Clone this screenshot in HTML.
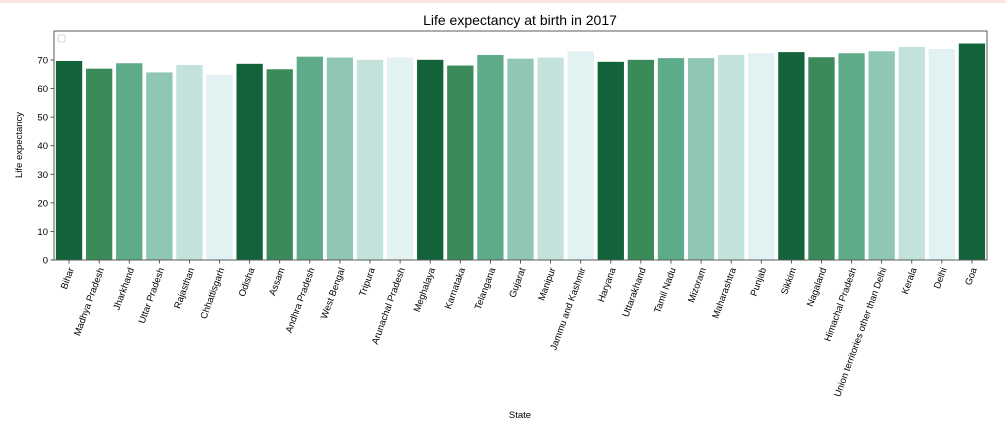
<!DOCTYPE html>
<html><head><meta charset="utf-8"><style>
body{margin:0;background:#fff;font-family:"Liberation Sans",sans-serif}
</style></head><body>
<div style="position:absolute;left:0;top:0;width:1006px;height:3px;background:#fde2e2"></div>
<svg id="c" width="1006" height="423" style="position:absolute;left:0;top:0"></svg>
<script>
const states=["Bihar","Madhya Pradesh","Jharkhand","Uttar Pradesh","Rajasthan","Chhattisgarh","Odisha","Assam","Andhra Pradesh","West Bengal","Tripura","Arunachal Pradesh","Meghalaya","Karnataka","Telangana","Gujarat","Manipur","Jammu and Kashmir","Haryana","Uttarakhand","Tamil Nadu","Mizoram","Maharashtra","Punjab","Sikkim","Nagaland","Himachal Pradesh","Union territories other than Delhi","Kerala","Delhi","Goa"];
const lifeExp=[69.8,67.1,69.0,65.8,68.4,65.0,68.8,66.9,71.3,71.0,70.2,71.0,70.2,68.2,71.9,70.6,71.0,73.1,69.5,70.2,70.8,70.8,71.9,72.5,72.9,71.1,72.5,73.2,74.7,74.0,75.9];
const yTicks=[0,10,20,30,40,50,60,70];
const palette=["#12633a","#3a8a5a","#5eab89","#8fc7b4","#c3e2dc","#e2f1f1"];
const svg=document.getElementById('c');const NS="http://www.w3.org/2000/svg";
const L=54,R=987,T=31,B=260;
const y=v=>B-v*(B-60)/70;
const bw=(R-L)/states.length;
const x=i=>L+i*bw;
function mk(t,a,txt){const e=document.createElementNS(NS,t);for(const k in a)e.setAttribute(k,a[k]);if(txt!==undefined)e.textContent=txt;svg.appendChild(e);return e;}
let e=mk('text',{x:520,y:25,'text-anchor':'middle','font-size':14,fill:'#000'},'Life expectancy at birth in 2017');

states.forEach((s,i)=>{
 const b=mk('rect',{x:x(i)+1.5,y:y(lifeExp[i]),width:bw-3,height:B-y(lifeExp[i]),fill:palette[i%6],stroke:'#fff','stroke-width':0.8});
 
 
 const cx=x(i)+bw/2;
 mk('line',{x1:cx,x2:cx,y1:B,y2:B+3.5,stroke:'#333','stroke-width':0.8});
 const t=mk('text',{x:cx+5,y:B+9,'text-anchor':'end','font-size':9.5,fill:'#000',transform:`rotate(-70 ${cx+5} ${B+9})`},s);
 
 
});
yTicks.forEach(v=>{
 mk('line',{x1:L-3.5,x2:L,y1:y(v),y2:y(v),stroke:'#333','stroke-width':0.8});
 const t=mk('text',{x:L-6,y:y(v)+3.5,'text-anchor':'end','font-size':9.5,fill:'#000'},v);
 
 
});
const f=mk('rect',{x:L,y:T,width:R-L,height:B-T,fill:'none',stroke:'#333','stroke-width':0.8});

const lg=mk('rect',{x:58,y:35,width:7,height:7,fill:'#fff',stroke:'#ccc','stroke-width':0.8,rx:1});

e=mk('text',{x:22,y:145,'text-anchor':'middle','font-size':9.5,transform:'rotate(-90 22 145)'},'Life expectancy');

e=mk('text',{x:520,y:418,'text-anchor':'middle','font-size':9.5},'State');

</script>
</body></html>
